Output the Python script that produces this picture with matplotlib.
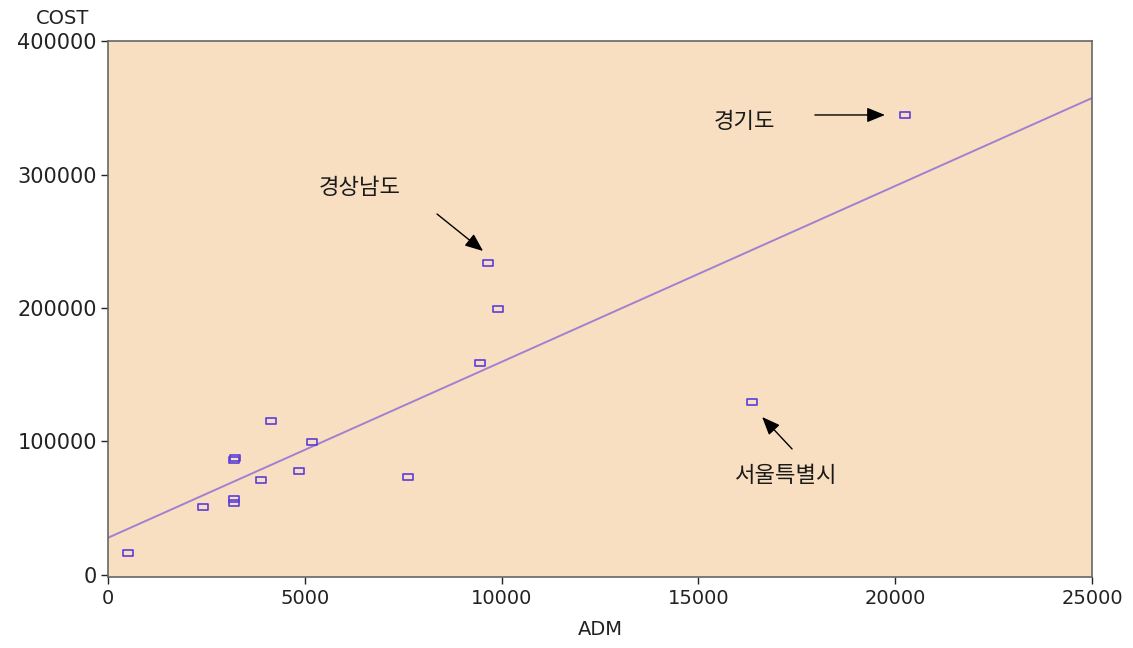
import numpy as np
import matplotlib
matplotlib.use("Agg")
import matplotlib.pyplot as plt
from matplotlib.path import Path

# ADM vs COST by province
adm = [500, 2410, 3190, 3230, 3200, 3210, 3900, 4140, 4850, 5190,
       7610, 9450, 9650, 9900, 16350, 20250]
cost = [16300, 51200, 86500, 87800, 57000, 54000, 71200, 115400, 77900, 99900,
        73200, 158600, 233500, 199000, 129800, 344600]

x_ticks = [0, 5000, 10000, 15000, 20000, 25000]
y_ticks = [0, 100000, 200000, 300000, 400000]

# callouts: label, label position, arrow tail, arrow tip
callouts = [
    ("경기도", (16160, 340000), (17960, 344600), (19740, 344600)),
    ("경상남도", (6400, 289900), (8360, 270400), (9530, 242700)),
    ("서울특별시", (17230, 74200), (17380, 94400), (16620, 118350)),
]

fig = plt.figure(figsize=(11.33, 6.48), dpi=100)
ax = fig.add_axes([0.0953, 0.1096, 0.8685, 0.8271])
ax.set_facecolor("#F9DFC1")

# least-squares fit line
slope, intercept = np.polyfit(adm, cost, 1)
xs = np.array([0, 25000])
ax.plot(xs, intercept + slope * xs, color="#A080D0", lw=1.4, zorder=2)

# slightly wide open rectangle marker
rect = Path([(-1, -0.7), (1, -0.7), (1, 0.7), (-1, 0.7), (-1, -0.7)],
            [Path.MOVETO, Path.LINETO, Path.LINETO, Path.LINETO, Path.CLOSEPOLY])
ax.plot(adm, cost, ls="none", marker=rect, markersize=7, markerfacecolor="none",
        markeredgecolor="#5A3ED8", markeredgewidth=1.2, zorder=3)

for label, txt_pos, tail, tip in callouts:
    ax.text(txt_pos[0], txt_pos[1], label, ha="center", va="center",
            fontsize=16, family=["Noto Sans CJK KR", "DejaVu Sans"], color="#1a1a1a")
    ax.annotate("", xy=tip, xytext=tail,
                arrowprops=dict(arrowstyle="-|>,head_length=1.1,head_width=0.45",
                                color="black", lw=1.0, shrinkA=0, shrinkB=0))

ax.set_xlim(0, 25000)
ax.set_ylim(-1500, 400000)
ax.set_xticks(x_ticks)
ax.set_yticks(y_ticks)
ax.set_xticklabels([str(t) for t in x_ticks])
ax.set_yticklabels([str(t) for t in y_ticks])
ax.tick_params(colors="#222222", length=5, width=1, pad=4)
ax.tick_params(axis="x", labelsize=14)
ax.tick_params(axis="y", labelsize=15, pad=3)
for s in ax.spines.values():
    s.set_color("#666666")
    s.set_linewidth(1.2)

ax.set_xlabel("ADM", fontsize=14, color="#222222", labelpad=8)
fig.text(0.055, 0.972, "COST", ha="center", va="center", fontsize=14, color="#222222")

fig.savefig("out.png", dpi=100, facecolor="white")
